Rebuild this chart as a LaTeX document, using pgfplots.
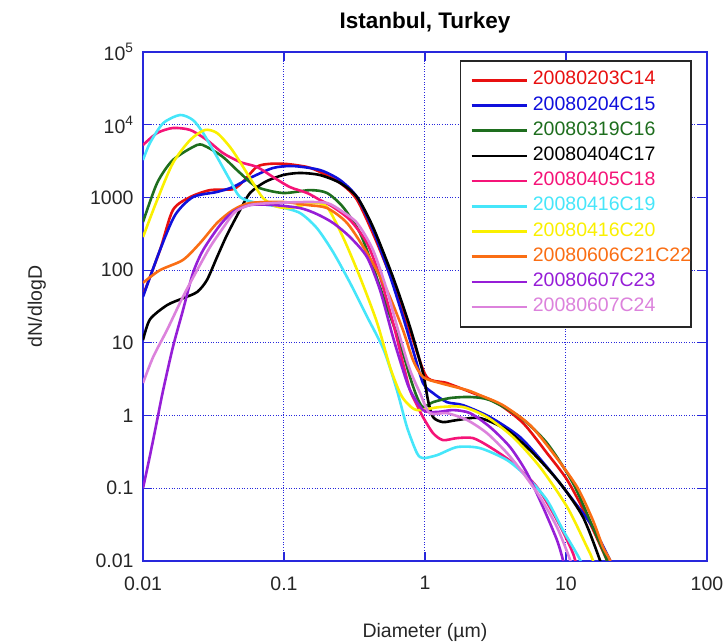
\documentclass[border=0pt]{standalone}
\usepackage{fontspec}
\setmainfont{Liberation Sans}
\usepackage{pgfplots}
\pgfplotsset{compat=1.18}
\definecolor{axblue}{RGB}{40,40,220}
\definecolor{cA}{RGB}{232,16,16}
\definecolor{cB}{RGB}{16,16,220}
\definecolor{cC}{RGB}{30,110,30}
\definecolor{cD}{RGB}{0,0,0}
\definecolor{cE}{RGB}{245,20,120}
\definecolor{cF}{RGB}{70,230,250}
\definecolor{cG}{RGB}{250,240,0}
\definecolor{cH}{RGB}{250,110,20}
\definecolor{cI}{RGB}{150,30,215}
\definecolor{cJ}{RGB}{220,130,220}
\begin{document}
\begin{tikzpicture}
\useasboundingbox (-143pt,-83pt) rectangle (582pt,561pt);
\begin{axis}[
  at={(0,0)}, anchor=south west,
  scale only axis, width=564pt, height=509pt,
  xmode=log, ymode=log,
  xmin=0.01, xmax=100, ymin=0.01, ymax=100000,
  xtick={0.01,0.1,1,10,100},
  xticklabels={0.01,0.1,1,10,100},
  ytick={0.01,0.1,1,10,100,1000,10000,100000},
  yticklabels={0.01,0.1,1,10,100,1000,10\textsuperscript{4},10\textsuperscript{5}},
  xminorticks=false, yminorticks=false,
  tick pos=both, tick align=inside, major tick length=9pt,
  every tick/.style={axblue, line width=1.2pt},
  axis line style={axblue, line width=1.4pt},
  grid=major,
  major grid style={axblue, line width=1pt, dash pattern=on 1pt off 1.6pt},
  every tick label/.append style={font=\fontsize{19.5}{21}\selectfont, text=black!85},
  yticklabel style={xshift=-6pt},
  xticklabel style={yshift=-12pt},
  title={Istanbul, Turkey},
  title style={font=\bfseries\fontsize{22.5}{24}\selectfont, at={(axis description cs:0.5,1)}, anchor=south, yshift=9pt},
  xlabel={Diameter (µm)},
  ylabel={dN/dlogD},
  x label style={font=\fontsize{19.5}{22}\selectfont, text=black!85, at={(axis description cs:0.5,0)}, anchor=base, yshift=-76pt},
  y label style={font=\fontsize{19.5}{22}\selectfont, text=black!85, at={(axis description cs:0,0.5)}, anchor=base, yshift=101pt},
  legend cell align=left,
  legend style={at={(0.9734,0.9843)}, anchor=north east, draw=black!85, line width=1.6pt,
    font=\fontsize{19.5}{21}\selectfont, inner xsep=0pt, inner ysep=7pt, row sep=0pt,
    column sep=5pt,
    nodes={text height=14pt, text depth=5pt, inner ysep=3.1pt, inner xsep=0pt}},
  legend image code/.code={\path[draw=none,fill=none] (0pt,0pt) rectangle (66pt,0pt); \draw[#1, line width=2.6pt] (11pt,0pt) -- (66pt,0pt);},
  every axis plot/.append style={line width=2.6pt, smooth, tension=0.45},
]
\addplot[cA] coordinates {(0.01,45) (0.0132,189) (0.0163,671) (0.0216,1010) (0.0299,1260) (0.0435,1300) (0.052,1700) (0.0644,2650) (0.08,2900) (0.105,2880) (0.146,2620) (0.180,2240) (0.250,1580) (0.330,921) (0.457,236) (0.632,48) (0.822,10.9) (1.03,3.39) (1.43,2.80) (2.19,2.04) (3.24,1.49) (4.96,0.789) (7.33,0.305) (10.2,0.130) (14.1,0.0402) (19.5,0.0103) (22.3,0.0055)};
\addlegendentry[text=cA]{20080203C14}
\addplot[cB] coordinates {(0.01,43) (0.0132,189) (0.0169,573) (0.0226,1010) (0.0335,1190) (0.0435,1390) (0.0574,1850) (0.0836,2540) (0.116,2700) (0.180,2380) (0.250,1730) (0.330,1010) (0.428,356) (0.547,100) (0.665,31) (0.822,7.96) (0.968,2.80) (1.14,2.04) (1.43,1.53) (1.86,1.39) (2.89,0.953) (4.72,0.506) (7.33,0.196) (11.2,0.0689) (15.5,0.0292) (20.5,0.0103) (23.4,0.0055)};
\addlegendentry[text=cB]{20080204C15}
\addplot[cC] coordinates {(0.01,459) (0.0126,1580) (0.0163,3270) (0.0242,5260) (0.0284,4940) (0.0369,3600) (0.0488,2170) (0.0644,1390) (0.0984,1150) (0.153,1260) (0.202,1150) (0.262,738) (0.346,324) (0.428,110) (0.537,31) (0.665,9.9) (0.783,3.39) (0.877,1.80) (0.968,1.31) (1.14,1.53) (1.50,1.74) (2.09,1.80) (2.89,1.63) (4.72,0.953) (7.33,0.419) (11.2,0.118) (15.5,0.0292) (19.5,0.0103) (21.2,0.0055)};
\addlegendentry[text=cC]{20080319C16}
\addplot[cD] coordinates {(0.01,10.9) (0.0112,21) (0.0148,33) (0.0192,41) (0.0242,50) (0.0284,73) (0.0335,151) (0.0394,304) (0.0488,671) (0.0574,1150) (0.0733,1630) (0.0984,2030) (0.130,2170) (0.180,2030) (0.250,1580) (0.330,1010) (0.428,391) (0.593,80) (0.783,16.5) (0.968,3.85) (1.05,1.63) (1.14,0.953) (1.34,0.814) (1.69,0.867) (2.45,0.925) (3.82,0.632) (5.83,0.305) (9.06,0.118) (13.2,0.0402) (17.4,0.0103) (19.2,0.0055)};
\addlegendentry[text=cD]{20080404C17}
\addplot[cE] coordinates {(0.01,5260) (0.0126,7690) (0.0163,9010) (0.0216,8460) (0.0284,6160) (0.0369,4080) (0.0488,3070) (0.0644,2620) (0.0836,1910) (0.110,1390) (0.146,1150) (0.180,921) (0.223,738) (0.294,489) (0.388,236) (0.480,80) (0.593,19) (0.698,5.27) (0.783,2.24) (0.877,1.39) (0.968,0.953) (1.14,0.574) (1.34,0.460) (1.69,0.490) (2.19,0.490) (2.89,0.369) (4.21,0.222) (6.23,0.104) (8.63,0.0366) (11.2,0.0128) (12.6,0.0055)};
\addlegendentry[text=cE]{20080405C18}
\addplot[cF] coordinates {(0.01,3270) (0.0112,5600) (0.0139,10500) (0.0183,13600) (0.0226,11600) (0.0267,7690) (0.0335,3600) (0.0414,1730) (0.0488,1010) (0.0644,838) (0.0937,738) (0.130,610) (0.171,379) (0.223,177) (0.294,67) (0.388,23) (0.51,8) (0.632,2.24) (0.745,0.695) (0.877,0.305) (0.968,0.260) (1.22,0.286) (1.69,0.369) (2.45,0.357) (3.82,0.244) (5.29,0.143) (7.33,0.0689) (9.52,0.0266) (12.6,0.0103) (13.9,0.0055)};
\addlegendentry[text=cF]{20080416C19}
\addplot[cG] coordinates {(0.01,285) (0.0126,921) (0.0163,2970) (0.0216,6160) (0.0275,8460) (0.0335,7690) (0.0414,4940) (0.0488,3070) (0.0603,1580) (0.0710,982) (0.0863,762) (0.110,714) (0.161,838) (0.202,738) (0.262,285) (0.346,80) (0.457,19) (0.565,4.65) (0.665,2.04) (0.745,1.49) (0.877,1.19) (1.28,1.31) (1.86,1.31) (2.75,0.953) (4.21,0.506) (6.54,0.196) (10.2,0.0551) (14.1,0.0155) (15.5,0.0103) (16.9,0.0055)};
\addlegendentry[text=cG]{20080416C20}
\addplot[cH] coordinates {(0.01,67) (0.0132,100) (0.0192,138) (0.0254,236) (0.0335,445) (0.0435,671) (0.0574,838) (0.0984,865) (0.146,786) (0.202,714) (0.280,445) (0.388,172) (0.537,53) (0.698,15.0) (0.822,5.80) (0.968,3.39) (1.28,2.80) (1.99,2.24) (2.45,1.91) (3.57,1.39) (5.56,0.740) (8.09,0.305) (12.0,0.104) (15.5,0.0366) (18.3,0.0155) (20.5,0.0103) (22.6,0.0055)};
\addlegendentry[text=cH]{20080606C21C22}
\addplot[cI] coordinates {(0.01,0.1) (0.0112,0.28) (0.0126,0.87) (0.0139,2.24) (0.0163,8.75) (0.0192,28) (0.0226,91) (0.0267,189) (0.0352,417) (0.0435,630) (0.0574,786) (0.0836,786) (0.130,714) (0.171,591) (0.223,445) (0.294,285) (0.388,151) (0.480,53) (0.593,12.0) (0.698,4.23) (0.783,2.24) (0.968,1.19) (1.22,1.12) (1.58,1.19) (2.09,1.08) (2.89,0.695) (4.01,0.369) (5.29,0.162) (6.87,0.0551) (8.63,0.0194) (9.52,0.0103) (10.2,0.0055)};
\addlegendentry[text=cI]{20080607C23}
\addplot[cJ] coordinates {(0.01,2.80) (0.0118,6.38) (0.0148,15.0) (0.0192,43) (0.0242,100) (0.0299,208) (0.0369,379) (0.0449,630) (0.0574,786) (0.0836,838) (0.146,865) (0.202,838) (0.250,671) (0.330,445) (0.428,189) (0.537,53) (0.665,12.0) (0.783,4.23) (0.922,2.04) (1.08,1.08) (1.43,1.08) (1.99,0.867) (2.75,0.574) (3.82,0.305) (4.96,0.162) (6.54,0.0757) (8.63,0.0292) (10.7,0.0103) (11.6,0.0055)};
\addlegendentry[text=cJ]{20080607C24}
\end{axis}
\end{tikzpicture}
\end{document}
